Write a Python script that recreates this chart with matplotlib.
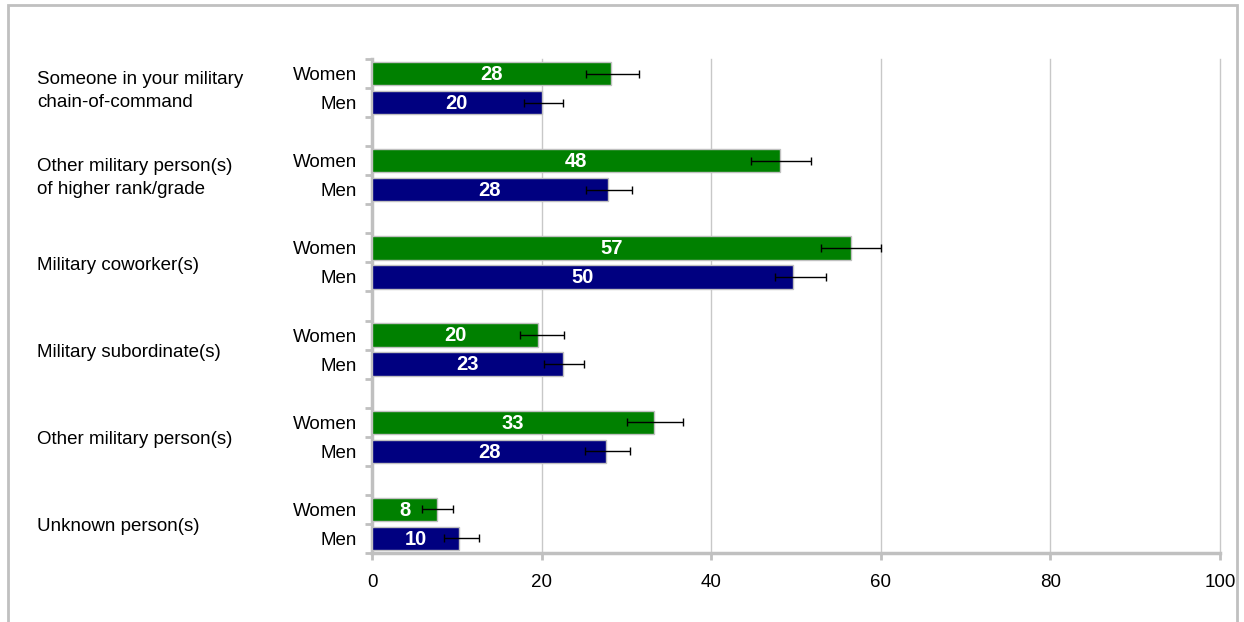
import matplotlib
matplotlib.use("Agg")
import matplotlib.pyplot as plt
from matplotlib.patches import Rectangle

plt.rcParams['font.family'] = ['Liberation Sans', 'DejaVu Sans']

categories = ["Someone in your military\nchain-of-command",
              "Other military person(s)\nof higher rank/grade",
              "Military coworker(s)",
              "Military subordinate(s)",
              "Other military person(s)",
              "Unknown person(s)"]
women = [28.2, 48.1, 56.5, 19.6, 33.3, 7.7]
men = [20.0, 27.8, 49.6, 22.5, 27.6, 10.3]
women_lo = [25.2, 44.7, 52.9, 17.5, 30.1, 5.9]
women_hi = [31.5, 51.8, 60.0, 22.6, 36.7, 9.6]
men_lo = [17.9, 25.2, 47.5, 20.3, 25.1, 8.5]
men_hi = [22.5, 30.7, 53.5, 25.0, 30.4, 12.6]
women_labels = ["28", "48", "57", "20", "33", "8"]
men_labels = ["20", "28", "50", "23", "28", "10"]
xticks = [0, 20, 40, 60, 80, 100]

GREEN = "#008000"
NAVY = "#000080"
GRAY = "#c0c0c0"
FS = 13.5

fig = plt.figure(figsize=(12.44, 6.22), dpi=100)
ax = fig.add_axes([372/1244, 1-553/622, (1220-372)/1244, (553-59)/622])

n = len(categories)
yw = [3*i + 0.5 for i in range(n)]
ym = [3*i + 1.5 for i in range(n)]
h = 0.8

ax.barh(yw, women, height=h, color=GREEN, edgecolor=GRAY, linewidth=1, zorder=3)
ax.barh(ym, men, height=h, color=NAVY, edgecolor=GRAY, linewidth=1, zorder=3)

werr = [[w - lo for w, lo in zip(women, women_lo)], [hi - w for w, hi in zip(women, women_hi)]]
merr = [[m - lo for m, lo in zip(men, men_lo)], [hi - m for m, hi in zip(men, men_hi)]]
ax.errorbar(women, yw, xerr=werr, fmt='none', ecolor='black', elinewidth=1, capsize=3, capthick=1, zorder=4)
ax.errorbar(men, ym, xerr=merr, fmt='none', ecolor='black', elinewidth=1, capsize=3, capthick=1, zorder=4)

for y, v, lab in zip(yw, women, women_labels):
    ax.text(v/2, y + 0.03, lab, ha='center', va='center', color='white', fontsize=14.5, fontweight='bold', zorder=5)
for y, v, lab in zip(ym, men, men_labels):
    ax.text(v/2, y + 0.03, lab, ha='center', va='center', color='white', fontsize=14.5, fontweight='bold', zorder=5)

ax.set_xlim(0, 100)
ax.set_ylim(3*n - 1, 0)
ax.set_xticks(xticks)
ax.set_xticklabels([str(t) for t in xticks], fontsize=FS)
ax.xaxis.grid(True, color="#c8c8c8", linewidth=1, zorder=0)
for gl in ax.get_xgridlines():
    gl.set_clip_on(False)
ax.set_axisbelow(True)

ax.set_yticks(yw + ym)
ax.set_yticklabels(["Women"]*n + ["Men"]*n, fontsize=FS)
ax.set_yticks(list(range(0, 3*n)), minor=True)
ax.tick_params(axis='y', which='major', length=0, pad=11)
ax.tick_params(axis='y', which='minor', length=5, width=2, color=GRAY, direction='out')
ax.tick_params(axis='x', which='major', length=5, width=2, color=GRAY, pad=10)

for s in ['top', 'right']:
    ax.spines[s].set_visible(False)
for s in ['left', 'bottom']:
    ax.spines[s].set_color(GRAY)
    ax.spines[s].set_linewidth(2.5)

for i, c in enumerate(categories):
    ax.annotate(c, xy=(37/1244, 3*i + 1.1), xycoords=('figure fraction', 'data'),
                ha='left', va='center', fontsize=FS, linespacing=1.45)

fig.patches.append(Rectangle((8/1244, -0.1), (1237-8)/1244, 1.1 - 5/622, transform=fig.transFigure,
                             fill=False, edgecolor=GRAY, linewidth=2, figure=fig))

fig.savefig("out.png", dpi=100)
